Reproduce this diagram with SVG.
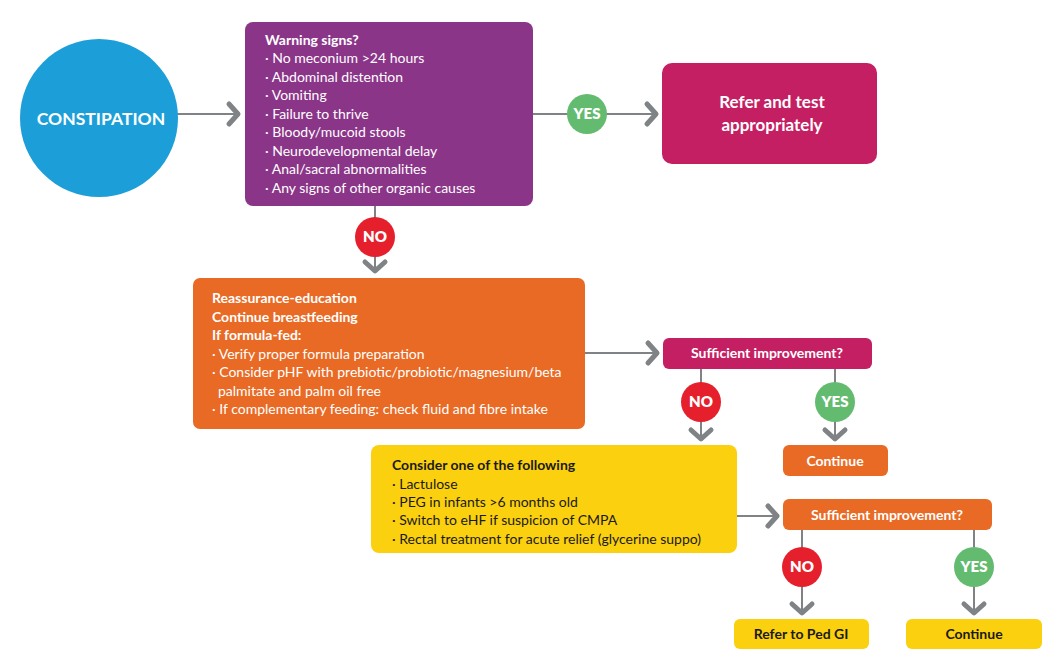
<svg xmlns="http://www.w3.org/2000/svg" width="1060" height="667" viewBox="0 0 1060 667">
<defs>
<style>
text{font-family:Lato,"Open Sans","Liberation Sans",sans-serif}
.t{font-size:14px;fill:#fff}
.b{font-weight:700}
.dk{fill:#1a1a1a}
.c{text-anchor:middle}
.ln{stroke:#7f8385;stroke-width:2;fill:none}
.ch{stroke:#7f8385;stroke-width:5;fill:none;stroke-linecap:round;stroke-linejoin:round}
.lbl{font-size:15px;font-weight:800;fill:#fff;text-anchor:middle}
</style>
</defs>
<rect width="1060" height="667" fill="#fff"/>
<g id="connectors">
<line class="ln" x1="176" y1="114" x2="240" y2="114"/>
<polyline class="ch" points="229,104 238,114 229,124"/>
<line class="ln" x1="533" y1="114" x2="657" y2="114"/>
<polyline class="ch" points="647,104 656,114 647,124"/>
<line class="ln" x1="375" y1="206" x2="375" y2="272"/>
<polyline class="ch" points="365,262 375,271 385,262"/>
<line class="ln" x1="585" y1="353" x2="658" y2="353"/>
<polyline class="ch" points="648,343 657,353 648,363"/>
<line class="ln" x1="701" y1="369" x2="701" y2="440"/>
<polyline class="ch" points="691,430 701,439 711,430"/>
<line class="ln" x1="835" y1="369" x2="835" y2="440"/>
<polyline class="ch" points="825,430 835,439 845,430"/>
<line class="ln" x1="737" y1="516" x2="778" y2="516"/>
<polyline class="ch" points="768,506 777,516 768,526"/>
<line class="ln" x1="802" y1="530" x2="802" y2="614"/>
<polyline class="ch" points="792,604 802,613 812,604"/>
<line class="ln" x1="974" y1="530" x2="974" y2="614"/>
<polyline class="ch" points="964,604 974,613 984,604"/>
</g>
<g id="constipation">
<circle cx="99" cy="118" r="79" fill="#1c9fd8"/>
<text class="c b" x="101" y="125" font-size="17.5" fill="#fff" font-weight="800">CONSTIPATION</text>
</g>
<g id="warning">
<rect x="245" y="22" width="288" height="184" rx="8" fill="#8b3589"/>
<text class="t b" x="265" y="45">Warning signs?</text>
<text class="t" x="265" y="63">· No meconium &gt;24 hours</text>
<text class="t" x="265" y="82">· Abdominal distention</text>
<text class="t" x="265" y="100">· Vomiting</text>
<text class="t" x="265" y="119">· Failure to thrive</text>
<text class="t" x="265" y="137">· Bloody/mucoid stools</text>
<text class="t" x="265" y="156">· Neurodevelopmental delay</text>
<text class="t" x="265" y="174">· Anal/sacral abnormalities</text>
<text class="t" x="265" y="193">· Any signs of other organic causes</text>
</g>
<g id="yes1">
<circle cx="587" cy="114" r="20" fill="#63bb70"/>
<text class="lbl" x="587" y="119">YES</text>
</g>
<g id="refer">
<rect x="662" y="63" width="215" height="101" rx="10" fill="#c51f63"/>
<text class="c b" x="772" y="108" font-size="17" fill="#fff">Refer and test</text>
<text class="c b" x="772" y="131" font-size="17" fill="#fff">appropriately</text>
</g>
<g id="no1">
<circle cx="375" cy="237" r="20" fill="#e5202c"/>
<text class="lbl" x="375" y="242">NO</text>
</g>
<g id="reassurance">
<rect x="193" y="278" width="392" height="151" rx="7" fill="#e96a24"/>
<text class="t b" x="212" y="303">Reassurance-education</text>
<text class="t b" x="212" y="322">Continue breastfeeding</text>
<text class="t b" x="212" y="340">If formula-fed:</text>
<text class="t" x="212" y="359">· Verify proper formula preparation</text>
<text class="t" x="212" y="377">· Consider pHF with prebiotic/probiotic/magnesium/beta</text>
<text class="t" x="218" y="396">palmitate and palm oil free</text>
<text class="t" x="212" y="414">· If complementary feeding: check fluid and fibre intake</text>
</g>
<g id="improvement1">
<rect x="663" y="338" width="209" height="31" rx="6" fill="#c51f63"/>
<text class="t c b" x="767" y="358">Sufficient improvement?</text>
</g>
<g id="no2">
<circle cx="701" cy="402" r="20" fill="#e5202c"/>
<text class="lbl" x="701" y="407">NO</text>
</g>
<g id="yes2">
<circle cx="835" cy="402" r="20" fill="#63bb70"/>
<text class="lbl" x="835" y="407">YES</text>
</g>
<g id="continue1">
<rect x="783" y="445" width="105" height="31" rx="6" fill="#e96a24"/>
<text class="t c b" x="835" y="466">Continue</text>
</g>
<g id="consider">
<rect x="371" y="445" width="366" height="108" rx="8" fill="#fbd00e"/>
<text class="t b dk" x="392" y="470">Consider one of the following</text>
<text class="t dk" x="392" y="489">· Lactulose</text>
<text class="t dk" x="392" y="507">· PEG in infants &gt;6 months old</text>
<text class="t dk" x="392" y="525">· Switch to eHF if suspicion of CMPA</text>
<text class="t dk" x="392" y="544">· Rectal treatment for acute relief (glycerine suppo)</text>
</g>
<g id="improvement2">
<rect x="783" y="499" width="209" height="31" rx="6" fill="#e96a24"/>
<text class="t c b" x="887" y="520">Sufficient improvement?</text>
</g>
<g id="no3">
<circle cx="802" cy="567" r="20" fill="#e5202c"/>
<text class="lbl" x="802" y="572">NO</text>
</g>
<g id="yes3">
<circle cx="974" cy="567" r="20" fill="#63bb70"/>
<text class="lbl" x="974" y="572">YES</text>
</g>
<g id="pedgi">
<rect x="734" y="619" width="135" height="30" rx="6" fill="#fbd00e"/>
<text class="t c b dk" x="801" y="639">Refer to Ped GI</text>
</g>
<g id="continue2">
<rect x="906" y="619" width="136" height="30" rx="6" fill="#fbd00e"/>
<text class="t c b dk" x="974" y="639">Continue</text>
</g>
</svg>
